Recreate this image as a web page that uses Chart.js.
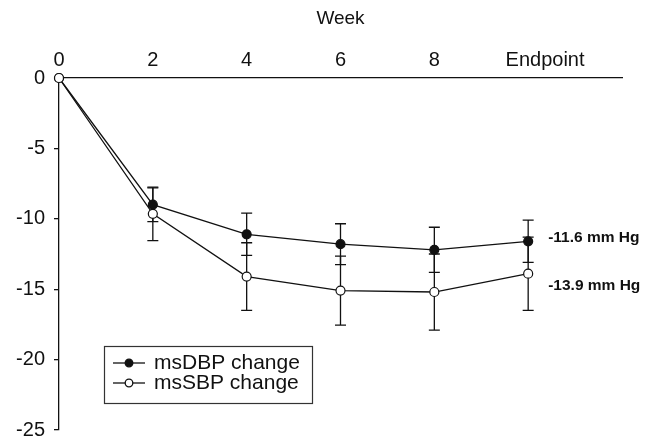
<!DOCTYPE html>
<html><head><meta charset="utf-8">
<script src="https://cdn.jsdelivr.net/npm/chart.js@4"></script>
<style>html,body{margin:0;padding:0;background:#fff}#wrap{width:656px;height:436px}</style>
</head><body><div id="wrap"><canvas id="c" width="656" height="436"></canvas></div>
<script>
// ---- data ----
const weeks = [0, 2, 4, 6, 8, 10];
const xTickLabels = ['0', '2', '4', '6', '8', 'Endpoint'];
const yTicks = [0, -5, -10, -15, -20, -25];
const dbpValues = [0, -9.0, -11.1, -11.8, -12.2, -11.6];
const dbpErrors = [0, 1.2, 1.5, 1.45, 1.6, 1.5];
const sbpValues = [0, -9.65, -14.1, -15.1, -15.2, -13.9];
const sbpErrors = [0, 1.9, 2.4, 2.45, 2.7, 2.6];
const seriesLabels = ['msDBP change', 'msSBP change'];
const endLabels = ['-11.6 mm Hg', '-13.9 mm Hg'];

// ---- style ----
const FONT = "'Liberation Sans', Arial, Helvetica, sans-serif";
const INK = '#111';
const ENDPOINT_LABEL_SHIFT = 0.36;

const errorBars = {
  id: 'errorBars',
  beforeDatasetsDraw(chart) {
    const {ctx, scales: {x, y}} = chart;
    ctx.save();
    ctx.strokeStyle = INK;
    ctx.lineWidth = 1.3;
    chart.data.datasets.forEach(ds => {
      ds.errors.forEach((e, i) => {
        if (!e) return;
        const px = x.getPixelForValue(ds.data[i].x);
        const t = y.getPixelForValue(ds.data[i].y + e);
        const b = y.getPixelForValue(ds.data[i].y - e);
        ctx.beginPath();
        ctx.moveTo(px, t); ctx.lineTo(px, b);
        ctx.moveTo(px - 5.5, t); ctx.lineTo(px + 5.5, t);
        ctx.moveTo(px - 5.5, b); ctx.lineTo(px + 5.5, b);
        ctx.stroke();
      });
    });
    ctx.restore();
  }
};

const extras = {
  id: 'extras',
  afterDraw(chart) {
    const {ctx, chartArea: ca, scales: {x, y}} = chart;
    ctx.save();
    // end labels
    ctx.fillStyle = INK;
    ctx.font = 'bold 15.5px ' + FONT;
    ctx.textAlign = 'left';
    ctx.textBaseline = 'middle';
    const ex = x.getPixelForValue(weeks[weeks.length - 1]) + 20;
    ctx.fillText(endLabels[0], ex, y.getPixelForValue(dbpValues[dbpValues.length - 1]) - 4);
    ctx.fillText(endLabels[1], ex, y.getPixelForValue(sbpValues[sbpValues.length - 1]) + 12);
    // legend
    const lx = ca.left + 45, ly = ca.bottom - 84, lw = 208, lh = 57;
    ctx.strokeStyle = '#333';
    ctx.lineWidth = 1.2;
    ctx.strokeRect(lx + 0.5, ly + 0.5, lw, lh);
    ctx.font = '21px ' + FONT;
    chart.data.datasets.forEach((ds, i) => {
      const cy = ly + 17 + i * 20;
      ctx.strokeStyle = INK;
      ctx.lineWidth = 1.3;
      ctx.beginPath();
      ctx.moveTo(lx + 9, cy); ctx.lineTo(lx + 41, cy);
      ctx.stroke();
      ctx.beginPath();
      ctx.arc(lx + 25, cy, 3.8, 0, Math.PI * 2);
      ctx.fillStyle = ds.pointBackgroundColor;
      ctx.fill();
      ctx.stroke();
      ctx.fillStyle = INK;
      ctx.fillText(ds.label, lx + 50, cy);
    });
    ctx.restore();
  }
};

const mk = (vals) => weeks.map((w, i) => ({x: w, y: vals[i]}));

new Chart(document.getElementById('c'), {
  type: 'line',
  data: {
    datasets: [
      {label: seriesLabels[0], data: mk(dbpValues), errors: dbpErrors, order: 1,
       borderColor: INK, borderWidth: 1.3, pointRadius: 4.5, pointBackgroundColor: INK,
       pointBorderColor: INK, pointBorderWidth: 1.2, tension: 0, clip: false},
      {label: seriesLabels[1], data: mk(sbpValues), errors: sbpErrors, order: 0,
       borderColor: INK, borderWidth: 1.3, pointRadius: 4.5, pointBackgroundColor: '#fff',
       pointBorderColor: INK, pointBorderWidth: 1.2, tension: 0, clip: false}
    ]
  },
  options: {
    responsive: false,
    animation: false,
    devicePixelRatio: 1,
    layout: {padding: {top: 0, right: 34, bottom: 6, left: 0}},
    plugins: {legend: {display: false}, tooltip: {enabled: false}},
    scales: {
      x: {
        type: 'linear', position: 'top', min: 0, max: 12,
        grid: {display: false, drawTicks: false, tickLength: 0},
        border: {display: true, color: INK, width: 1.3},
        afterBuildTicks(axis) {
          axis.ticks = weeks.map((w, i) => ({value: i === weeks.length - 1 ? w + ENDPOINT_LABEL_SHIFT : w}));
        },
        afterFit(scale) { scale.height = 78; scale.paddingLeft = 0; scale.paddingRight = 0; },
        ticks: {
          color: INK, font: {family: FONT, size: 20}, padding: 6, maxRotation: 0, autoSkip: false,
          callback: (v, i) => xTickLabels[i]
        },
        title: {display: true, text: 'Week', color: INK, font: {family: FONT, size: 19}, padding: {top: 7, bottom: 0}}
      },
      y: {
        type: 'linear', min: -25, max: 0,
        afterBuildTicks(axis) { axis.ticks = yTicks.map(v => ({value: v})); },
        afterFit(scale) { scale.width = 59; scale.paddingTop = 0; scale.paddingBottom = 0; },
        grid: {drawOnChartArea: false, drawTicks: true, tickLength: 5, color: INK, lineWidth: 1.3},
        border: {display: true, color: INK, width: 1.3},
        ticks: {color: INK, font: {family: FONT, size: 20}, padding: 9}
      }
    }
  },
  plugins: [errorBars, extras]
});
</script></body></html>
